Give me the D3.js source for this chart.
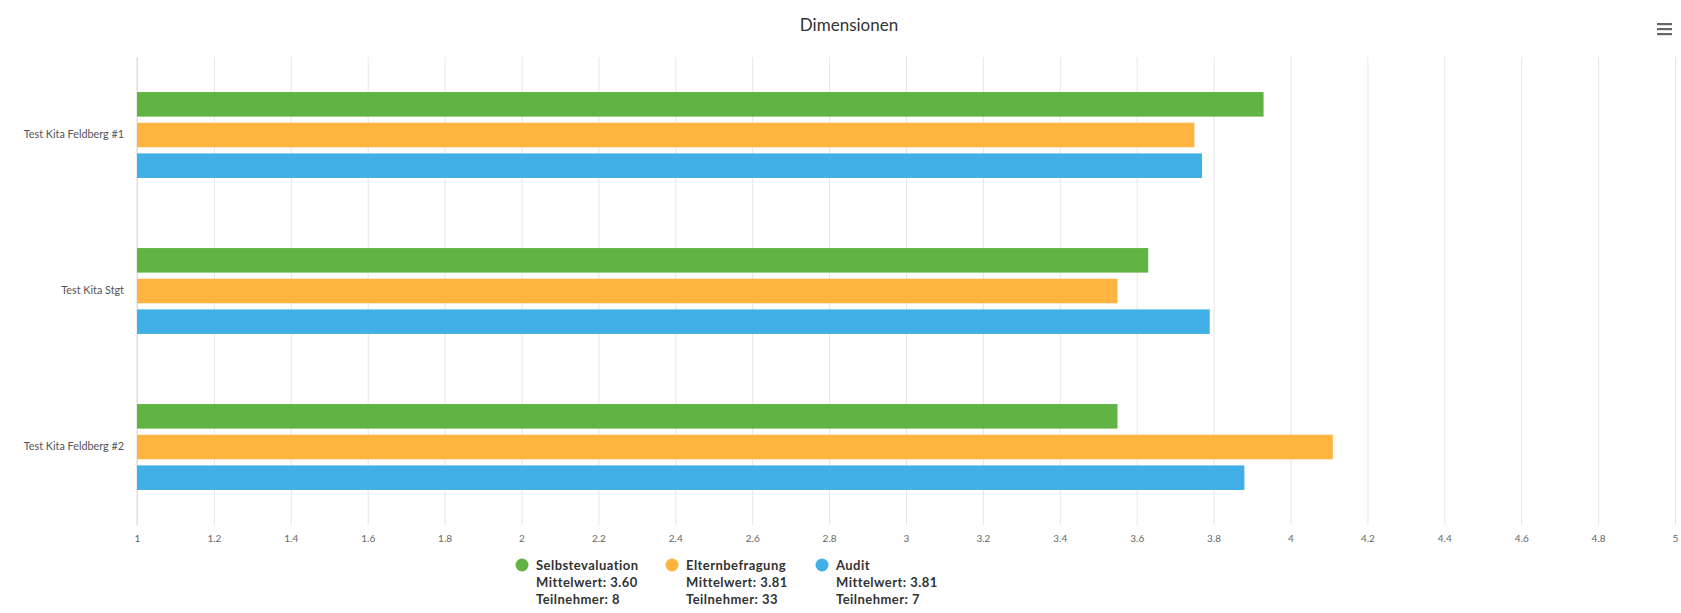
<!DOCTYPE html>
<html>
<head>
<meta charset="utf-8">
<script src="https://cdn.jsdelivr.net/npm/d3@7"></script>
<style>
  body { margin: 0; background: #fff; }
  text { font-family: Lato, "Open Sans", sans-serif; }
</style>
</head>
<body>
<div class="chart"></div>
<script>
// Data
var categories = ["Test Kita Feldberg #1", "Test Kita Stgt", "Test Kita Feldberg #2"];
var seriesNames = ["Selbstevaluation", "Elternbefragung", "Audit"];
var selbstevaluation = [3.93, 3.63, 3.55];
var elternbefragung = [3.75, 3.55, 4.11];
var audit = [3.77, 3.79, 3.88];
var seriesMeans = ["3.60", "3.81", "3.81"];
var seriesParticipants = [8, 33, 7];
var xTicks = [1, 1.2, 1.4, 1.6, 1.8, 2, 2.2, 2.4, 2.6, 2.8, 3, 3.2, 3.4, 3.6, 3.8, 4, 4.2, 4.4, 4.6, 4.8, 5];
var colors = ["#60b444", "#fdb53f", "#41b0e6"];

var W = 1681, H = 613;
var margin = {top: 57, right: 6, bottom: 88, left: 137};
var width = W - margin.left - margin.right,
    height = H - margin.top - margin.bottom;

var values = [selbstevaluation, elternbefragung, audit];
var rows = [];
categories.forEach(function(c, i) {
    seriesNames.forEach(function(s, j) {
        rows.push({cat: c, series: s, value: values[j][i], idx: j});
    });
});

var svg = d3.select(".chart").append("svg")
    .attr("width", W)
    .attr("height", H)
    .style("background-color", "#fff");

// title
svg.append("text")
    .attr("x", 849)
    .attr("y", 31)
    .attr("text-anchor", "middle")
    .style("font-size", "17px")
    .style("fill", "#333")
    .text("Dimensionen");

// menu icon
var menu = svg.append("g").attr("transform", "translate(1657,24)");
[0, 5, 10].forEach(function(dy) {
    menu.append("rect")
        .attr("x", 0).attr("y", dy - 1)
        .attr("width", 15).attr("height", 2.2)
        .attr("fill", "#666");
});

var g = svg.append("g")
    .attr("transform", "translate(" + margin.left + "," + margin.top + ")");

// scales
var xScale = d3.scaleLinear().domain([1, 5]).range([0, width]);
var yScale = d3.scaleBand().domain(categories).range([0, height]).padding(0);
var band = yScale.bandwidth();
var ySub = d3.scaleBand().domain(seriesNames)
    .range([band * 0.205, band * 0.795])
    .paddingInner(0.2).paddingOuter(0.1);

// grid + x axis
var xaxis = d3.axisBottom(xScale)
    .tickValues(xTicks)
    .tickSize(-height)
    .tickPadding(10)
    .tickFormat(d3.format("~g"));

var xg = g.append("g")
    .attr("transform", "translate(0," + height + ")")
    .call(xaxis);
xg.select(".domain").remove();
xg.selectAll("line").attr("stroke", "#e6e6e6");
xg.selectAll("text")
    .style("font-size", "10px")
    .style("fill", "#666");

// category labels
var yaxis = d3.axisLeft(yScale).tickSize(0).tickPadding(13);
var yg = g.append("g").call(yaxis);
yg.select(".domain").remove();
yg.selectAll("text")
    .style("font-size", "10.8px")
    .style("fill", "#555");

// left axis line
g.append("line")
    .attr("x1", 0).attr("x2", 0)
    .attr("y1", 0).attr("y2", height)
    .attr("stroke", "#dcdcdc");

// bars
g.append("g")
    .selectAll("rect")
    .data(rows)
    .enter()
    .append("rect")
        .attr("x", xScale(1))
        .attr("y", function(d) { return yScale(d.cat) + ySub(d.series); })
        .attr("width", function(d) { return xScale(d.value) - xScale(1); })
        .attr("height", ySub.bandwidth())
        .attr("fill", function(d) { return colors[d.idx]; });

// legend
var legend = svg.append("g").attr("transform", "translate(515,565)");
var items = legend.selectAll("g")
    .data(seriesNames)
    .enter()
    .append("g")
    .attr("transform", function(d, i) { return "translate(" + (i * 150) + ",0)"; });

items.append("circle")
    .attr("cx", 7).attr("cy", 0).attr("r", 6.5)
    .attr("fill", function(d, i) { return colors[i]; });

items.each(function(d, i) {
    var lines = [d, "Mittelwert: " + seriesMeans[i], "Teilnehmer: " + seriesParticipants[i]];
    d3.select(this).selectAll("text")
        .data(lines)
        .enter()
        .append("text")
        .attr("x", 21)
        .attr("y", function(t, k) { return 5 + k * 17; })
        .style("font-size", "13px")
        .style("font-weight", "bold")
        .style("letter-spacing", "0.45px")
        .style("fill", "#333")
        .text(function(t) { return t; });
});
</script>
</body>
</html>
